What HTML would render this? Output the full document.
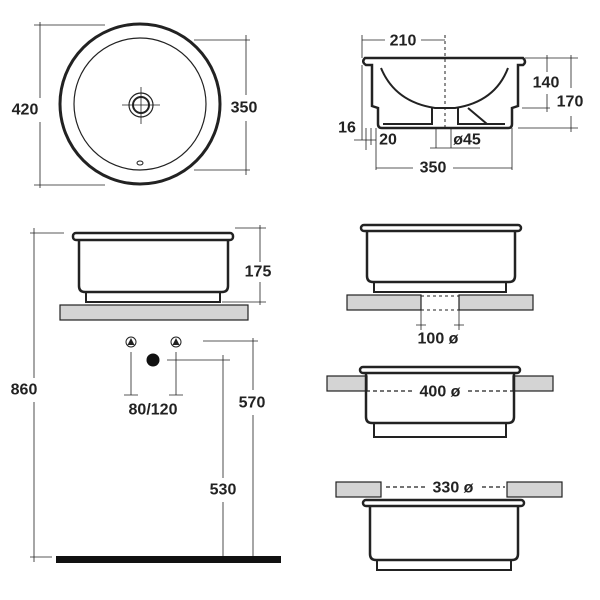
<!DOCTYPE html><html><head><style>body{margin:0;background:#fff}svg{display:block}text{font-family:"Liberation Sans",sans-serif;font-weight:bold;font-size:16px;fill:#222;text-anchor:middle;dominant-baseline:central}</style></head><body>
<svg width="600" height="600" viewBox="0 0 600 600" xmlns="http://www.w3.org/2000/svg">
<rect width="600" height="600" fill="#fff"/>
<g fill="none" stroke="#222">
<circle cx="140" cy="104" r="80" stroke-width="3"/>
<circle cx="140" cy="104" r="66" stroke-width="1.2"/>
<circle cx="141" cy="105" r="12" stroke-width="1.2"/>
<circle cx="141" cy="105" r="8" stroke-width="2"/>
<path d="M122 105H160M141 87V124" stroke-width="0.8"/>
<ellipse cx="140" cy="163" rx="3" ry="2" stroke-width="1"/>
<path d="M40 22V98M40 122V188M34 25H105M34 185H105" stroke-width="0.8"/>
<path d="M246 35V95M246 121V175M194 40H250M194 170H250" stroke-width="0.8"/>
<path d="M365 58H523Q527 62 523 65H518V106L512 108V124Q512 128 508 128H382Q378 128 378 124V108L372 106V65H366Q361 62 365 58Z" stroke-width="2.5"/>
<path d="M381 68Q395 102 435 108H455Q495 102 508 68" stroke-width="2"/>
<path d="M383 124H432V108M458 108V124H505M468 108L487 124" stroke-width="2"/>
<path d="M445 35V128" stroke-dasharray="3,3" stroke-width="1"/>
<path d="M362 35V58M362 40H385M421 40H445M547 55V72M547 94V112M571 55V88M571 116V132M525 58H578M522 108H550M518 128H578" stroke-width="0.8"/>
<path d="M362 65V140M366 128V150M371 128V145M354 140H376M376 128V170M512 128V170M376 168H413M453 168H512M436 128V148M451 128V148M430 148H480" stroke-width="0.8"/>
<rect x="73" y="233" width="160" height="7" rx="3" stroke-width="2.5"/>
<path d="M79 240V286Q79 292 85 292H222Q228 292 228 286V240" stroke-width="2.5"/>
<rect x="86" y="292" width="134" height="10" stroke-width="2"/>
<rect x="60" y="305" width="188" height="15" fill="#d4d4d4" stroke-width="1.2"/>
<path d="M235 228H266M260 225V262M260 282V305M222 302H266" stroke-width="0.8"/>
<path d="M30 233H64M34 228V378M34 402V562M30 557H52" stroke-width="0.8"/>
<circle cx="131" cy="342" r="5" stroke-width="1"/><circle cx="176" cy="342" r="5" stroke-width="1"/>
<path d="M131 352V395M176 352V395M124 395H138M169 395H183" stroke-width="0.8"/>
<path d="M167 360H230M223 355V478M223 502V556M203 341H258M253 338V390M253 415V556" stroke-width="0.8"/>
<rect x="361" y="225" width="160" height="6" rx="3" stroke-width="2.5"/>
<path d="M367 231V276Q367 282 373 282H509Q515 282 515 276V231" stroke-width="2.5"/>
<rect x="374" y="282" width="132" height="10" stroke-width="2"/>
<rect x="347" y="295" width="74" height="15" fill="#d4d4d4" stroke-width="1.2"/>
<rect x="459" y="295" width="74" height="15" fill="#d4d4d4" stroke-width="1.2"/>
<path d="M421 296H459M421 310H459" stroke-dasharray="3,3" stroke-width="1"/>
<path d="M421 310V330M459 310V330M416 325H426M454 325H464" stroke-width="0.8"/>
<rect x="327" y="376" width="40" height="15" fill="#d4d4d4" stroke-width="1.2"/>
<rect x="513" y="376" width="40" height="15" fill="#d4d4d4" stroke-width="1.2"/>
<rect x="360" y="367" width="160" height="6" rx="3" stroke-width="2.5"/>
<path d="M366 373V417Q366 423 372 423H508Q514 423 514 417V373" stroke-width="2.5"/>
<rect x="374" y="423" width="132" height="14" stroke-width="2"/>
<path d="M366 391H413M468 391H514" stroke-dasharray="4,3" stroke-width="1.2"/>
<rect x="336" y="482" width="45" height="15" fill="#d4d4d4" stroke-width="1.2"/>
<rect x="507" y="482" width="55" height="15" fill="#d4d4d4" stroke-width="1.2"/>
<path d="M386 487H425M482 487H505" stroke-dasharray="4,3" stroke-width="1.2"/>
<rect x="363" y="500" width="161" height="6" rx="3" stroke-width="2.5"/>
<path d="M370 506V554Q370 560 376 560H512Q518 560 518 554V506" stroke-width="2.5"/>
<rect x="377" y="560" width="134" height="10" stroke-width="2"/>
</g>
<path d="M131 338L127.5 345H134.5Z M176 338L172.5 345H179.5Z" fill="#222"/>
<circle cx="153" cy="360" r="6.5" fill="#111"/>
<rect x="56" y="556" width="225" height="7" fill="#111"/>
<text x="25" y="110">420</text><text x="244" y="108">350</text>
<text x="403" y="41">210</text><text x="546" y="83">140</text><text x="570" y="102">170</text>
<text x="347" y="128">16</text><text x="388" y="140">20</text><text x="467" y="140">ø45</text><text x="433" y="168">350</text>
<text x="258" y="272">175</text><text x="24" y="390">860</text><text x="153" y="410">80/120</text>
<text x="252" y="403">570</text><text x="223" y="490">530</text>
<text x="438" y="339">100 ø</text><text x="440" y="392">400 ø</text><text x="453" y="488">330 ø</text>
</svg></body></html>
